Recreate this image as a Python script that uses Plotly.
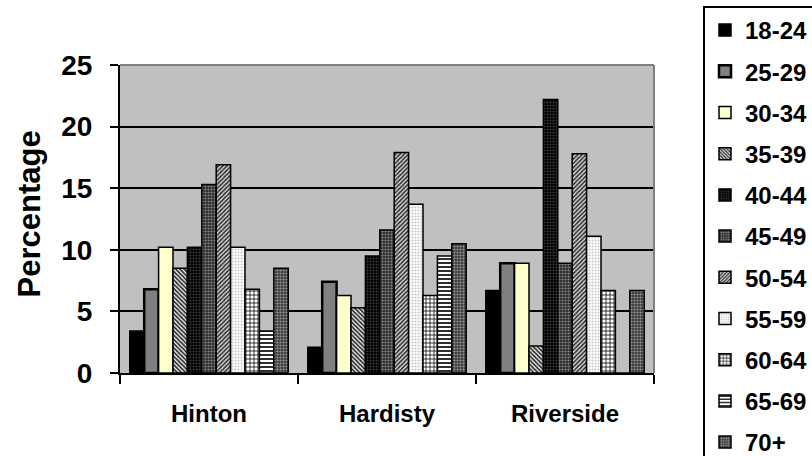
import plotly.graph_objects as go

# Towns on the category axis
towns = ["Hinton", "Hardisty", "Riverside"]

# Age groups (one bar series each)
age_groups = ["18-24", "25-29", "30-34", "35-39", "40-44", "45-49",
              "50-54", "55-59", "60-64", "65-69", "70+"]

# Percentage of respondents per age group, ordered Hinton, Hardisty, Riverside
pct_18_24 = [3.4, 2.1, 6.7]
pct_25_29 = [6.8, 7.4, 8.9]
pct_30_34 = [10.2, 6.3, 8.9]
pct_35_39 = [8.5, 5.3, 2.2]
pct_40_44 = [10.2, 9.5, 22.2]
pct_45_49 = [15.3, 11.6, 8.9]
pct_50_54 = [16.9, 17.9, 17.8]
pct_55_59 = [10.2, 13.7, 11.1]
pct_60_64 = [6.8, 6.3, 6.7]
pct_65_69 = [3.4, 9.5, 0.0]
pct_70_plus = [8.5, 10.5, 6.7]

series_values = [pct_18_24, pct_25_29, pct_30_34, pct_35_39, pct_40_44,
                 pct_45_49, pct_50_54, pct_55_59, pct_60_64, pct_65_69,
                 pct_70_plus]

y_ticks = [0, 5, 10, 15, 20, 25]

# Fill style for each age group: (background colour, pattern shape, pattern colour, size, solidity)
styles = [
    ("#000000", "", "#000000", 4, 0.3),
    ("#808080", "", "#000000", 4, 0.3),
    ("#FFFFCC", "", "#000000", 4, 0.3),
    ("#E8E8E8", "\\", "#202020", 3, 0.5),
    ("#000000", ".", "#3a3a3a", 3, 0.4),
    ("#2a2a2a", ".", "#8a8a8a", 3, 0.4),
    ("#E0E0E0", "/", "#303030", 3, 0.55),
    ("#FFFFFF", ".", "#c8c8c8", 3, 0.4),
    ("#FFFFFF", "+", "#000000", 4, 0.35),
    ("#FFFFFF", "-", "#303030", 4, 0.5),
    ("#3a3a3a", ".", "#9a9a9a", 3, 0.4),
]
border_widths = [1.5, 2.5, 1.5, 1.5, 1.5, 1.5, 1.5, 1.5, 1.5, 1.5, 1.5]

font_family = "Arial, Liberation Sans, sans-serif"

fig = go.Figure()
for i, (name, vals) in enumerate(zip(age_groups, series_values)):
    bg, shape, fg, size, solidity = styles[i]
    fig.add_trace(go.Bar(
        name=name,
        x=towns,
        y=vals,
        legendgroup=name,
        marker=dict(
            color=bg,
            line=dict(color="#000000", width=border_widths[i]),
            pattern=dict(shape=shape, fgcolor=fg, bgcolor=bg,
                         size=size, solidity=solidity, fillmode="replace"),
        ),
    ))

L, R, T, B = 120, 158, 65, 83
W, H = 812, 456
plot_w = W - L - R
plot_h = H - T - B

fig.update_layout(
    width=W, height=H,
    margin=dict(l=L, r=R, t=T, b=B, pad=0, autoexpand=False),
    paper_bgcolor="#FFFFFF",
    plot_bgcolor="#C0C0C0",
    barmode="group",
    bargap=0.11,
    bargroupgap=0.0,
    font=dict(family=font_family, color="#000000"),
    showlegend=True,
    legend=dict(
        x=(703 - L) / plot_w,
        y=(H - B - 6) / plot_h,
        xanchor="left", yanchor="top",
        bgcolor="#FFFFFF",
        bordercolor="#000000",
        borderwidth=2,
        font=dict(family=font_family, size=24, weight="bold", color="#000000"),
        tracegroupgap=7,
        traceorder="grouped",
        itemwidth=30,
        maxheight=600,
    ),
    xaxis=dict(
        type="category",
        showgrid=False,
        showline=True, linecolor="#000000", linewidth=2,
        ticks="outside", tickson="boundaries", ticklen=9,
        tickcolor="#000000", tickwidth=2,
        tickfont=dict(family=font_family, size=24, weight="bold"),
        ticklabelstandoff=18,
        zeroline=False,
    ),
    yaxis=dict(
        range=[0, 25],
        tickvals=y_ticks,
        showgrid=True, gridcolor="#000000", gridwidth=2,
        showline=True, linecolor="#000000", linewidth=2,
        ticks="outside", ticklen=8, tickcolor="#000000", tickwidth=2,
        tickfont=dict(family=font_family, size=28, weight="bold"),
        ticklabelstandoff=12,
        zeroline=False,
    ),
    annotations=[dict(
        text="Percentage",
        xref="paper", yref="paper",
        x=(29 - L) / plot_w, y=0.515,
        xanchor="center", yanchor="middle",
        textangle=-90, showarrow=False,
        font=dict(family=font_family, size=31, weight="bold", color="#000000"),
    )],
    shapes=[
        dict(type="line", xref="paper", yref="paper", x0=0, x1=1, y0=1, y1=1,
             line=dict(color="#808080", width=2)),
        dict(type="line", xref="paper", yref="paper", x0=1, x1=1, y0=0, y1=1,
             line=dict(color="#808080", width=2)),
    ],
)

fig.write_html("out.html")
